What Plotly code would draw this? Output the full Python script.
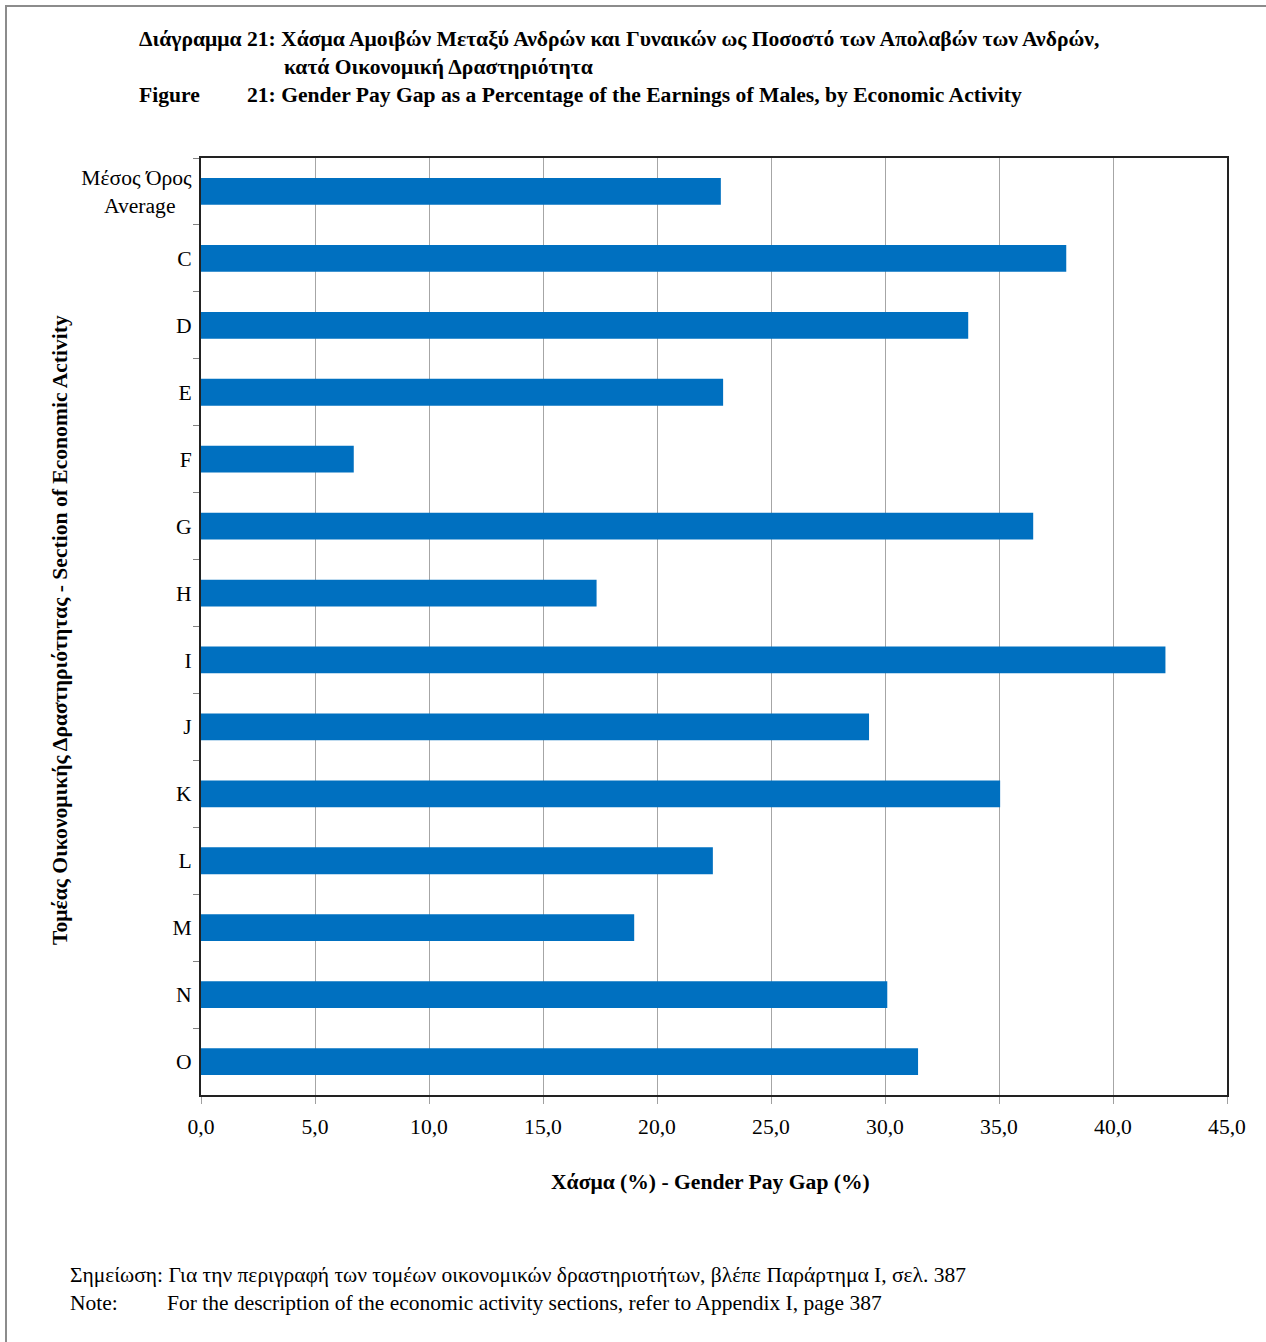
import plotly.graph_objects as go

categories = ["Μέσος Όρος<br>Average&nbsp;&nbsp;&nbsp;", "C", "D", "E", "F", "G", "H", "I", "J", "K", "L", "M", "N", "O"]
values = [22.8, 37.95, 33.65, 22.9, 6.7, 36.5, 17.35, 42.3, 29.3, 35.05, 22.45, 19.0, 30.1, 31.45]
x_tickvals = [0, 5, 10, 15, 20, 25, 30, 35, 40, 45]
x_ticktext = ["0,0", "5,0", "10,0", "15,0", "20,0", "25,0", "30,0", "35,0", "40,0", "45,0"]

W, H = 1266, 1342
L, R, T, B = 201, 1227, 158, 1095

def px(x):
    return (x - L) / (R - L)

def py(y):
    return (B - y) / (B - T)

FONT = "Liberation Serif, Times New Roman, serif"
FS = 21.6

fig = go.Figure(go.Bar(
    x=values, y=categories, orientation="h",
    marker=dict(color="#0070C0", line=dict(width=0)),
    hoverinfo="x+y",
))

fig.update_layout(
    width=W, height=H,
    margin=dict(l=L, r=W - R, t=T, b=H - B, autoexpand=False),
    paper_bgcolor="white", plot_bgcolor="white",
    font=dict(family=FONT, size=FS, color="black"),
    bargap=0.6,
    showlegend=False,
)

fig.update_xaxes(
    range=[0, 45], tickvals=x_tickvals, ticktext=x_ticktext,
    showgrid=True, gridcolor="#a6a6a6", gridwidth=1,
    ticks="outside", ticklen=7, tickcolor="#a0a0a0", tickwidth=1,
    showline=True, linecolor="#222", linewidth=2, mirror=True,
    tickfont=dict(family=FONT, size=FS), zeroline=False,
    ticklabelstandoff=4,
)
fig.update_yaxes(
    autorange="reversed", type="category",
    ticks="outside", tickson="boundaries", ticklen=6, tickcolor="#808080", tickwidth=1,
    showline=True, linecolor="#222", linewidth=2, mirror=True,
    showgrid=False, tickfont=dict(family=FONT, size=FS),
    ticklabelstandoff=3,
)

annots = [
    dict(x=px(137), y=py(39), text="<b>Διάγραμμα 21: Χάσμα Αμοιβών Μεταξύ Ανδρών και Γυναικών ως Ποσοστό των Απολαβών των Ανδρών,</b>", xanchor="left", size=FS),
    dict(x=px(282), y=py(67), text="<b>κατά Οικονομική Δραστηριότητα</b>", xanchor="left", size=FS),
    dict(x=px(137), y=py(95), text="<b>Figure</b>", xanchor="left", size=FS),
    dict(x=px(245), y=py(95), text="<b>21: Gender Pay Gap as a Percentage of the Earnings of Males, by Economic Activity</b>", xanchor="left", size=FS),
    dict(x=px(710), y=py(1182), text="<b>Χάσμα (%) - Gender Pay Gap (%)</b>", xanchor="center", size=FS),
    dict(x=px(68), y=py(1275), text="Σημείωση: Για την περιγραφή των τομέων οικονομικών δραστηριοτήτων, βλέπε Παράρτημα Ι, σελ. 387", xanchor="left", size=21.5),
    dict(x=px(68), y=py(1303), text="Note:", xanchor="left", size=21.5),
    dict(x=px(165), y=py(1303), text="For the description of the economic activity sections, refer to Appendix I, page 387", xanchor="left", size=21.5),
]
for a in annots:
    fig.add_annotation(x=a["x"], y=a["y"], xref="paper", yref="paper", text=a["text"],
                       xanchor=a["xanchor"], yanchor="middle", showarrow=False,
                       font=dict(family=FONT, size=a["size"], color="black"))

fig.add_annotation(x=px(60), y=py(630), xref="paper", yref="paper",
                   text="<b>Τομέας Οικονομικής Δραστηριότητας - Section of Economic Activity</b>",
                   textangle=-90, showarrow=False, xanchor="center", yanchor="middle",
                   font=dict(family=FONT, size=FS, color="black"))

fig.add_shape(type="rect", xref="paper", yref="paper",
              x0=px(6), x1=px(1300), y0=py(1380), y1=py(6),
              line=dict(color="#8c8c8c", width=2), fillcolor="rgba(0,0,0,0)", layer="below")

fig.write_html("out.html", config={"displayModeBar": False},
               post_script="document.body.style.margin='0';document.body.style.overflow='hidden';")
